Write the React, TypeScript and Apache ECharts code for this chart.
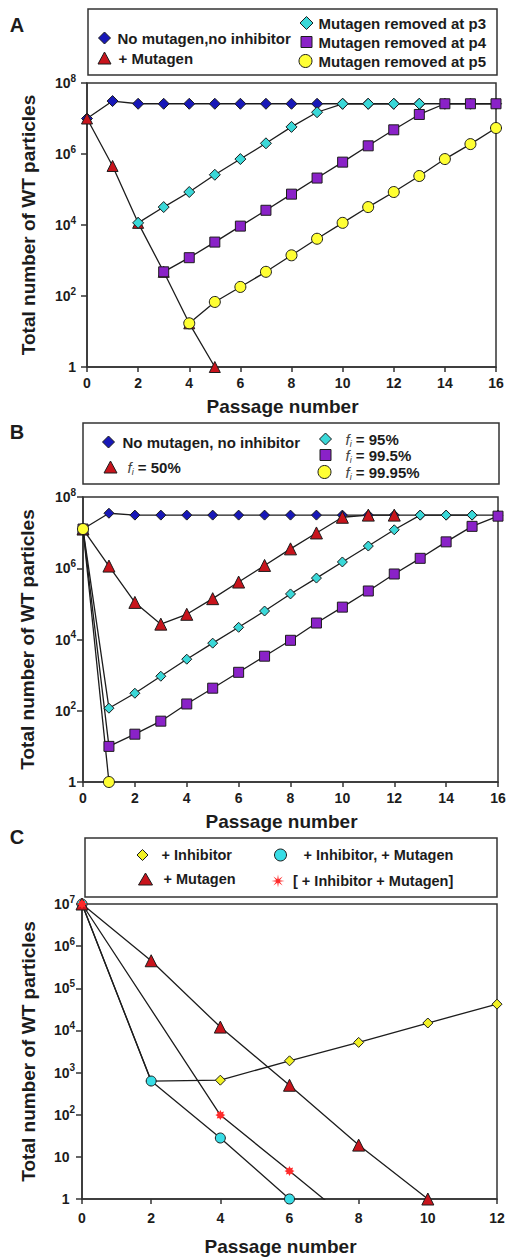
import React, { useEffect, useRef } from 'react';
import * as echarts from 'echarts';

const FONT = '"Liberation Sans", Arial, Helvetica, sans-serif';
const INK = '#1c1c1c';
const FRAME = '#333333';

const BLUE = '#1818b8';
const RED = '#c8141c';
const CYAN = '#3ad8d8';
const PURPLE = '#8a22c8';
const YELLOW = '#ffff33';
const C_YELLOW = '#f2f224';
const C_CYAN = '#38dde6';
const STAR = '#ff2a2a';

const STAR_PATH =
  'path://M10 0L11.15 7.23L17.07 2.93L12.77 8.85L20 10L12.77 11.15L17.07 17.07L11.15 12.77L10 20L8.85 12.77L2.93 17.07L7.23 11.15L0 10L7.23 8.85L2.93 2.93L8.85 7.23Z';
const BLOB_STAR_PATH =
  'path://M10 0L12.3 4.4L17.07 2.93L15.6 7.7L20 10L15.6 12.3L17.07 17.07L12.3 15.6L10 20L7.7 15.6L2.93 17.07L4.4 12.3L0 10L4.4 7.7L2.93 2.93L7.7 4.4Z';

// ---------------- Panel A ----------------
const yTicksA = [1, 1e2, 1e4, 1e6, 1e8];
const aNoMutX = [0, 1, 2, 3, 4, 5, 6, 7, 8, 9, 10, 11, 12, 13, 14, 15, 16];
const aNoMutY = [1e7, 3.1e7, 2.6e7, 2.6e7, 2.6e7, 2.6e7, 2.6e7, 2.6e7, 2.6e7, 2.6e7, 2.6e7, 2.6e7, 2.6e7, 2.6e7, 2.6e7, 2.6e7, 2.6e7];
const aMutX = [0, 1, 2, 3, 4, 5];
const aMutY = [1e7, 4.6e5, 1.15e4, 480, 17, 1];
const aP3X = [2, 3, 4, 5, 6, 7, 8, 9, 10, 11, 12, 13];
const aP3Y = [1.15e4, 3.2e4, 8.5e4, 2.6e5, 7.2e5, 2.0e6, 5.8e6, 1.5e7, 2.6e7, 2.6e7, 2.6e7, 2.6e7];
const aP4X = [3, 4, 5, 6, 7, 8, 9, 10, 11, 12, 13, 14, 15, 16];
const aP4Y = [480, 1.2e3, 3.3e3, 9.3e3, 2.6e4, 7.4e4, 2.1e5, 5.9e5, 1.7e6, 4.8e6, 1.3e7, 2.6e7, 2.6e7, 2.6e7];
const aP5X = [4, 5, 6, 7, 8, 9, 10, 11, 12, 13, 14, 15, 16];
const aP5Y = [17, 68, 180, 480, 1.4e3, 4.1e3, 1.15e4, 3.2e4, 8.5e4, 2.4e5, 7.2e5, 1.9e6, 5.4e6];

// ---------------- Panel B ----------------
const yTicksB = [1, 1e2, 1e4, 1e6, 1e8];
const bNoX = [0, 1, 2, 3, 4, 5, 6, 7, 8, 9, 10, 11, 12, 13, 14, 15, 16];
const bNoY = [1.26e7, 3.5e7, 3.1e7, 3.1e7, 3.1e7, 3.1e7, 3.1e7, 3.1e7, 3.1e7, 3.1e7, 3.1e7, 3.1e7, 3.1e7, 3.1e7, 3.1e7, 3.1e7, 3.1e7];
const bF50X = [0, 1, 2, 3, 4, 5, 6, 7, 8, 9, 10, 11, 12];
const bF50Y = [1.26e7, 1.15e6, 1.1e5, 2.7e4, 5.1e4, 1.4e5, 4.1e5, 1.2e6, 3.5e6, 9.8e6, 2.7e7, 3.1e7, 3.1e7];
const bF95X = [0, 1, 2, 3, 4, 5, 6, 7, 8, 9, 10, 11, 12, 13, 14, 15];
const bF95Y = [1.26e7, 118, 310, 930, 2.8e3, 7.9e3, 2.2e4, 6.3e4, 1.9e5, 5.3e5, 1.5e6, 4.2e6, 1.2e7, 3.1e7, 3.1e7, 3.1e7];
const bF995X = [0, 1, 2, 3, 4, 5, 6, 7, 8, 9, 10, 11, 12, 13, 14, 15, 16];
const bF995Y = [1.26e7, 10, 22, 51, 155, 430, 1.2e3, 3.4e3, 9.5e3, 2.9e4, 8.1e4, 2.3e5, 6.9e5, 1.9e6, 5.5e6, 1.5e7, 2.9e7];
const bF9995X = [0, 1];
const bF9995Y = [1.26e7, 1];

// ---------------- Panel C ----------------
const yTicksC = [1, 10, 1e2, 1e3, 1e4, 1e5, 1e6, 1e7];
const cInhX = [0, 2, 4, 6, 8, 10, 12];
const cInhY = [1e7, 630, 660, 1.9e3, 5.2e3, 1.5e4, 4.2e4];
const cMutX = [0, 2, 4, 6, 8, 10];
const cMutY = [1e7, 4.5e5, 1.2e4, 500, 19, 1];
const cBothX = [0, 2, 4, 6];
const cBothY = [1e7, 630, 28, 1];
const cCalcX = [0, 4, 6, 8];
const cCalcY = [1e7, 98, 4.6, 0.21];

const pts = (xs: number[], ys: number[]) => xs.map((x, i) => [x, ys[i]]);

function logLabel(phantom: boolean) {
  return (v: number) => {
    const e = Math.round(Math.log10(v));
    if (e === 0) return phantom ? '{b|1}{h|0}' : '{b|1}';
    if (e === 1) return phantom ? '{b|10}{h|0}' : '{b|10}';
    return '{b|10}{s|' + e + '}';
  };
}

const labelRich = {
  b: { fontSize: 14, fontWeight: 'bold', fontFamily: FONT, color: INK, lineHeight: 20 },
  s: { fontSize: 10, fontWeight: 'bold', fontFamily: FONT, color: INK, lineHeight: 10, verticalAlign: 'top' },
  h: { fontSize: 10, fontWeight: 'bold', fontFamily: FONT, color: 'rgba(0,0,0,0)', lineHeight: 10, verticalAlign: 'top' },
};

const axisLineStyle = { color: FRAME, width: 1.5 };

function xAxisDef(gridIndex: number, max: number, nameGap: number, labelMargin: number) {
  return {
    type: 'value',
    gridIndex,
    min: 0,
    max,
    interval: 2,
    axisLine: { show: true, onZero: false, lineStyle: axisLineStyle },
    axisTick: { show: true, length: 5, lineStyle: axisLineStyle },
    axisLabel: { fontSize: 14, fontWeight: 'bold', fontFamily: FONT, color: INK, margin: labelMargin },
    splitLine: { show: false },
    name: 'Passage number',
    nameLocation: 'middle',
    nameGap,
    nameMoveOverlap: false,
    nameTextStyle: { fontSize: 19, fontWeight: 'bold', fontFamily: FONT, color: INK, padding: [0, 18, 0, 0] },
  };
}

function yAxisDef(gridIndex: number, max: number, ticks: number[], nameGap: number, margin: number, phantom: boolean) {
  return {
    type: 'log',
    logBase: 10,
    gridIndex,
    min: 1,
    max,
    axisLine: { show: true, onZero: false, lineStyle: axisLineStyle },
    axisTick: { show: true, length: 6, lineStyle: axisLineStyle, customValues: ticks },
    axisLabel: {
      customValues: ticks,
      formatter: logLabel(phantom),
      rich: labelRich,
      margin,
      fontSize: 14,
      fontWeight: 'bold',
      fontFamily: FONT,
      color: INK,
    },
    splitLine: { show: false },
    minorTick: { show: false },
    minorSplitLine: { show: false },
    name: 'Total number of WT particles',
    nameLocation: 'middle',
    nameGap,
    nameMoveOverlap: false,
    nameTextStyle: { fontSize: 19, fontWeight: 'bold', fontFamily: FONT, color: INK },
  };
}

function lineSeries(
  name: string,
  idx: number,
  data: any[],
  symbol: string,
  size: number,
  color: string,
  opts: any = {}
) {
  return {
    type: 'line',
    name,
    xAxisIndex: idx,
    yAxisIndex: idx,
    data,
    symbol,
    symbolSize: size,
    showAllSymbol: true,
    clip: false,
    itemStyle: { color, borderColor: INK, borderWidth: 1 },
    lineStyle: { color: INK, width: 1.3 },
    emphasis: { disabled: true },
    silent: true,
    ...opts,
  };
}

type LegSpec = {
  name: string;
  label: string;
  icon: string;
  color: string;
  cx: number;
  cy: number;
  w: number;
  h: number;
  textLeft: number;
  fontSize: number;
  border?: number;
};

function makeLegend(s: LegSpec) {
  const LH = 18;
  const padLeft = Math.max(0, s.textLeft - (s.cx + s.w / 2 + 5));
  return {
    show: true,
    left: s.cx - s.w / 2,
    top: s.cy - Math.max(s.h, LH) / 2,
    orient: 'horizontal',
    padding: 0,
    itemWidth: s.w,
    itemHeight: s.h,
    selectedMode: false,
    data: [
      {
        name: s.name,
        icon: s.icon,
        itemStyle: { color: s.color, borderColor: INK, borderWidth: s.border ?? 1 },
      },
    ],
    formatter: () => s.label,
    textStyle: {
      fontSize: s.fontSize,
      fontWeight: 'bold',
      fontFamily: FONT,
      color: INK,
      lineHeight: LH,
      padding: [0, 0, 0, padLeft],
      rich: {
        f: { fontSize: 15, fontStyle: 'italic', fontWeight: 'normal', fontFamily: FONT, color: '#444', lineHeight: LH },
        i: { fontSize: 9, fontStyle: 'italic', fontWeight: 'normal', fontFamily: FONT, color: '#444', lineHeight: 9, verticalAlign: 'bottom' },
        t: { fontSize: 15, fontWeight: 'bold', fontFamily: FONT, color: INK, lineHeight: LH },
      },
    },
  };
}

const legends: LegSpec[] = [
  // Panel A
  { name: 'A|nomut', label: 'No mutagen,no inhibitor', icon: 'diamond', color: BLUE, cx: 104, cy: 38, w: 12, h: 12, textLeft: 117, fontSize: 15 },
  { name: 'A|mut', label: '+ Mutagen', icon: 'triangle', color: RED, cx: 104, cy: 58, w: 13, h: 12, textLeft: 118, fontSize: 15 },
  { name: 'A|p3', label: 'Mutagen removed at p3', icon: 'diamond', color: CYAN, cx: 306, cy: 23, w: 13, h: 13, textLeft: 318, fontSize: 15 },
  { name: 'A|p4', label: 'Mutagen removed at p4', icon: 'rect', color: PURPLE, cx: 306, cy: 42, w: 11, h: 11, textLeft: 318, fontSize: 15 },
  { name: 'A|p5', label: 'Mutagen removed at p5', icon: 'circle', color: YELLOW, cx: 305, cy: 61, w: 13, h: 13, textLeft: 318, fontSize: 15 },
  // Panel B
  { name: 'B|nomut', label: 'No mutagen, no inhibitor', icon: 'diamond', color: BLUE, cx: 108, cy: 442, w: 12, h: 12, textLeft: 122, fontSize: 15 },
  { name: 'B|f50', label: '{f|f}{i|i}{t| = 50%}', icon: 'triangle', color: RED, cx: 110, cy: 467, w: 13, h: 12, textLeft: 127, fontSize: 15 },
  { name: 'B|f95', label: '{f|f}{i|i}{t| = 95%}', icon: 'diamond', color: CYAN, cx: 325, cy: 439, w: 12, h: 12, textLeft: 345, fontSize: 15 },
  { name: 'B|f995', label: '{f|f}{i|i}{t| = 99.5%}', icon: 'rect', color: PURPLE, cx: 325, cy: 455, w: 11, h: 11, textLeft: 345, fontSize: 15 },
  { name: 'B|f9995', label: '{f|f}{i|i}{t| = 99.95%}', icon: 'circle', color: YELLOW, cx: 324, cy: 472, w: 13, h: 13, textLeft: 345, fontSize: 15 },
  // Panel C
  { name: 'C|inh', label: '+ Inhibitor', icon: 'diamond', color: C_YELLOW, cx: 142, cy: 855, w: 11, h: 11, textLeft: 161, fontSize: 14.5 },
  { name: 'C|mut', label: '+ Mutagen', icon: 'triangle', color: RED, cx: 145, cy: 879, w: 14, h: 12, textLeft: 163, fontSize: 14.5 },
  { name: 'C|both', label: '+ Inhibitor, + Mutagen', icon: 'circle', color: C_CYAN, cx: 280, cy: 855, w: 12, h: 12, textLeft: 303, fontSize: 14.5 },
  { name: 'C|calc', label: '[ + Inhibitor + Mutagen]', icon: STAR_PATH, color: STAR, cx: 278, cy: 881, w: 13, h: 13, textLeft: 293, fontSize: 14.5, border: 0 },
];

function buildOption() {
  const calcData: any[] = pts(cCalcX, cCalcY).map((p, i) =>
    i === cCalcX.length - 1 ? { value: p, symbol: 'none' } : { value: p }
  );
  return {
    animation: false,
    backgroundColor: '#ffffff',
    grid: [
      { left: 87, top: 83, width: 409, height: 284, show: true, borderColor: FRAME, borderWidth: 1.5, backgroundColor: 'transparent', containLabel: false, outerBoundsMode: 'none' },
      { left: 83, top: 497, width: 415, height: 285, show: true, borderColor: FRAME, borderWidth: 1.5, backgroundColor: 'transparent', containLabel: false, outerBoundsMode: 'none' },
      { left: 82, top: 904, width: 415, height: 295, show: true, borderColor: FRAME, borderWidth: 1.5, backgroundColor: 'transparent', containLabel: false, outerBoundsMode: 'none' },
    ],
    xAxis: [xAxisDef(0, 16, 30, 9), xAxisDef(1, 16, 30, 9), xAxisDef(2, 12, 38, 12)],
    yAxis: [
      yAxisDef(0, 1e8, yTicksA, 49, 11, false),
      yAxisDef(1, 1e8, yTicksB, 46, 7, false),
      yAxisDef(2, 1e7, yTicksC, 44, 7, true),
    ],
    legend: legends.map(makeLegend),
    graphic: {
      elements: [
        { type: 'rect', silent: true, shape: { x: 88, y: 9, width: 409, height: 66 }, style: { fill: 'none', stroke: FRAME, lineWidth: 1.5 } },
        { type: 'rect', silent: true, shape: { x: 83, y: 423, width: 416, height: 61 }, style: { fill: 'none', stroke: FRAME, lineWidth: 1.5 } },
        { type: 'rect', silent: true, shape: { x: 85, y: 838, width: 412, height: 59 }, style: { fill: 'none', stroke: FRAME, lineWidth: 1.5 } },
        { type: 'text', silent: true, x: 17, y: 25, style: { text: 'A', fontSize: 20, fontWeight: 'bold', fontFamily: FONT, fill: INK, align: 'center', verticalAlign: 'middle' } },
        { type: 'text', silent: true, x: 17, y: 432, style: { text: 'B', fontSize: 20, fontWeight: 'bold', fontFamily: FONT, fill: INK, align: 'center', verticalAlign: 'middle' } },
        { type: 'text', silent: true, x: 17, y: 837, style: { text: 'C', fontSize: 20, fontWeight: 'bold', fontFamily: FONT, fill: INK, align: 'center', verticalAlign: 'middle' } },
      ],
    },
    series: [
      // Panel A
      lineSeries('A|nomut', 0, pts(aNoMutX, aNoMutY), 'diamond', 11, BLUE),
      lineSeries('A|mut', 0, pts(aMutX, aMutY), 'triangle', 11, RED),
      lineSeries('A|p3', 0, pts(aP3X, aP3Y), 'diamond', 11, CYAN),
      lineSeries('A|p4', 0, pts(aP4X, aP4Y), 'rect', 10, PURPLE),
      lineSeries('A|p5', 0, pts(aP5X, aP5Y), 'circle', 11, YELLOW),
      // Panel B
      lineSeries('B|nomut', 1, pts(bNoX, bNoY), 'diamond', 10, BLUE),
      lineSeries('B|f50', 1, pts(bF50X, bF50Y), 'triangle', 12, RED),
      lineSeries('B|f95', 1, pts(bF95X, bF95Y), 'diamond', 10, CYAN),
      lineSeries('B|f995', 1, pts(bF995X, bF995Y), 'rect', 10, PURPLE),
      lineSeries('B|f9995', 1, pts(bF9995X, bF9995Y), 'circle', 11, YELLOW),
      // Panel C
      lineSeries('C|inh', 2, pts(cInhX, cInhY), 'diamond', 10, C_YELLOW),
      lineSeries('C|both', 2, pts(cBothX, cBothY), 'circle', 10, C_CYAN),
      lineSeries('C|mut', 2, pts(cMutX, cMutY), 'triangle', 12, RED),
      lineSeries('C|calc', 2, calcData, BLOB_STAR_PATH, 10, STAR, {
        clip: true,
        itemStyle: { color: STAR, borderWidth: 0 },
      }),
    ],
  };
}

export default function App() {
  const ref = useRef<HTMLDivElement>(null);
  useEffect(() => {
    document.body.style.margin = '0';
    if (!ref.current) return;
    const chart = echarts.init(ref.current, undefined, { renderer: 'svg' });
    chart.setOption(buildOption() as any);
    return () => {
      chart.dispose();
    };
  }, []);
  return <div ref={ref} style={{ width: 506, height: 1257 }} />;
}
